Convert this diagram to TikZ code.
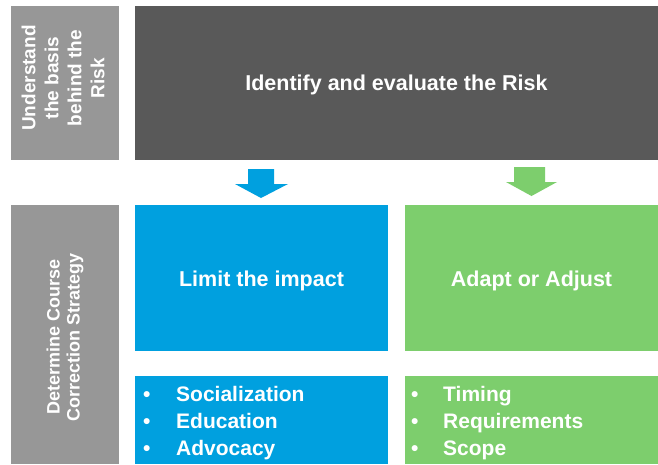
\documentclass[tikz,border=0pt]{standalone}
\usepackage{fontspec}
\setmainfont{Liberation Sans}
\definecolor{darkbox}{HTML}{595959}
\definecolor{graybox}{HTML}{979797}
\definecolor{bluebox}{HTML}{00A0DF}
\definecolor{greenbox}{HTML}{7DCE6D}
\begin{document}
\begin{tikzpicture}[x=1pt,y=-1pt,
  panel/.style={draw=none, inner sep=0pt, outer sep=0pt, text=white, font=\bfseries, align=center},
  big/.style={anchor=base, inner sep=0pt, text=white, font=\bfseries\fontsize{21.5}{26}\selectfont},
  item/.style={anchor=base west, inner sep=0pt, text=white, font=\bfseries\fontsize{21}{25}\selectfont},
  side/.style={text=white, rotate=90, align=center, inner sep=0pt}]
\useasboundingbox (0,0) rectangle (658,464);
\fill[white] (0,0) rectangle (658,464);
% boxes
\node[panel, fill=graybox, minimum width=108, minimum height=154, anchor=north west] (lab1) at (11,6) {};
\node[panel, fill=darkbox, minimum width=523, minimum height=154, anchor=north west] (top) at (135,6) {};
\node[panel, fill=graybox, minimum width=108, minimum height=259, anchor=north west] (lab2) at (11,205) {};
\node[panel, fill=bluebox, minimum width=253, minimum height=146, anchor=north west] (limit) at (135,205) {};
\node[panel, fill=greenbox, minimum width=253, minimum height=146, anchor=north west] (adapt) at (405,205) {};
\node[panel, fill=bluebox, minimum width=253, minimum height=88, anchor=north west] (blist) at (135,376) {};
\node[panel, fill=greenbox, minimum width=253, minimum height=88, anchor=north west] (glist) at (405,376) {};
% titles
\node[big] (ttop) at (top.center |- 0,90.7) {Identify and evaluate the Risk};
\node[big] (tlimit) at (limit.center |- 0,286) {Limit the impact};
\node[big] (tadapt) at (adapt.center |- 0,286) {Adapt or Adjust};
% side labels
\node[side, font=\bfseries\fontsize{19}{23}\selectfont] (s1) at (63,78) {Understand\\the basis\\behind the\\Risk};
\node[side, font=\bfseries\fontsize{18}{20}\selectfont] (s2) at (65,337) {Determine Course\\Correction Strategy};
% arrows
\fill[bluebox] (248,169) -- (274,169) -- (274,184) -- (288,184) -- (261,198) -- (235,184) -- (248,184) -- cycle;
\fill[greenbox] (514,167) -- (545,167) -- (545,182) -- (557,182) -- (531.5,196) -- (506,182) -- (514,182) -- cycle;
% lists
\node[item] (b1) at (143,401.5) {\makebox[33pt][l]{•}Socialization};
\node[item] (b2) at (143,428.5) {\makebox[33pt][l]{•}Education};
\node[item] (b3) at (143,455.5) {\makebox[33pt][l]{•}Advocacy};
\node[item] (g1) at (411,401.5) {\makebox[32pt][l]{•}Timing};
\node[item] (g2) at (411,428.5) {\makebox[32pt][l]{•}Requirements};
\node[item] (g3) at (411,455.5) {\makebox[32pt][l]{•}Scope};
\end{tikzpicture}
\end{document}
